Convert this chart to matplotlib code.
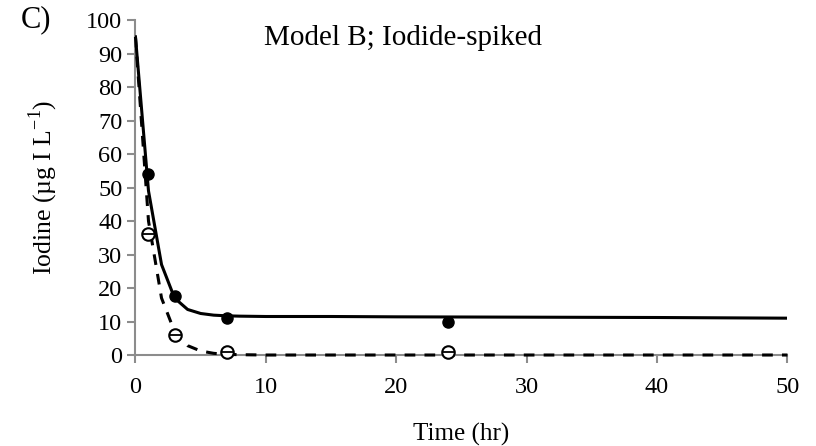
import matplotlib
matplotlib.use("Agg")
import matplotlib.pyplot as plt

plt.rcParams['font.family'] = ['Liberation Serif', 'DejaVu Serif']
plt.rcParams['mathtext.fontset'] = 'custom'
plt.rcParams['mathtext.rm'] = 'Liberation Serif'

# observed data
t_obs = [1, 3, 7, 24]
total_obs = [54, 17.5, 11, 10]
iodide_obs = [36, 6, 1, 1]

# model curves
t_mod = [0, 1, 2, 3, 4, 5, 6, 7, 8, 10, 15, 20, 30, 40, 50]
total_mod = [95, 49, 27, 17, 13.6, 12.4, 11.9, 11.7, 11.6, 11.5, 11.5, 11.4, 11.3, 11.2, 11.0]
iodide_mod = [95, 40, 17, 7, 2.8, 1.2, 0.5, 0.2, 0.1, 0, 0, 0, 0, 0, 0]

fig = plt.figure(figsize=(8.16, 4.46), dpi=100)
ax = fig.add_axes([0.166, 0.204, 0.799, 0.751])

ax.plot(t_mod, total_mod, color='black', lw=2.2, zorder=4)
ax.plot(t_mod, iodide_mod, color='black', lw=2.2, ls=(0, (3.5, 3)),
        clip_on=False, zorder=4)

ax.plot(t_obs, total_obs, 'o', color='black', ms=8, zorder=5)
ax.plot(t_obs, iodide_obs, 'o', mfc='white', mec='black', mew=1.5, ms=9,
        clip_on=False, zorder=5)
ax.plot(t_obs, iodide_obs, '_', color='black', ms=9, mew=1.3,
        clip_on=False, zorder=6)

ax.set_xlim(0, 50)
ax.set_ylim(0, 100)
ax.set_xticks(range(0, 51, 10))
ax.set_yticks(range(0, 101, 10))
for s in ['top', 'right']:
    ax.spines[s].set_visible(False)
for s in ['left', 'bottom']:
    ax.spines[s].set_color('#8c8c8c')
    ax.spines[s].set_linewidth(1.5)
ax.tick_params(colors='#8c8c8c', width=1.5, length=6, labelsize=17.5, labelcolor='black')
ax.tick_params(axis='x', pad=10)

ax.set_xlabel('Time (hr)', fontsize=18, labelpad=18)
ax.set_ylabel('Iodine (µg I L$^{-1}$)', fontsize=18.5, labelpad=19)

ax.text(0.41, 0.985, 'Model B; Iodide-spiked', transform=ax.transAxes,
        fontsize=21, ha='center', va='top')
fig.text(0.025, 0.955, 'C)', fontsize=22, ha='left', va='center')

fig.savefig('out.png', dpi=100)
